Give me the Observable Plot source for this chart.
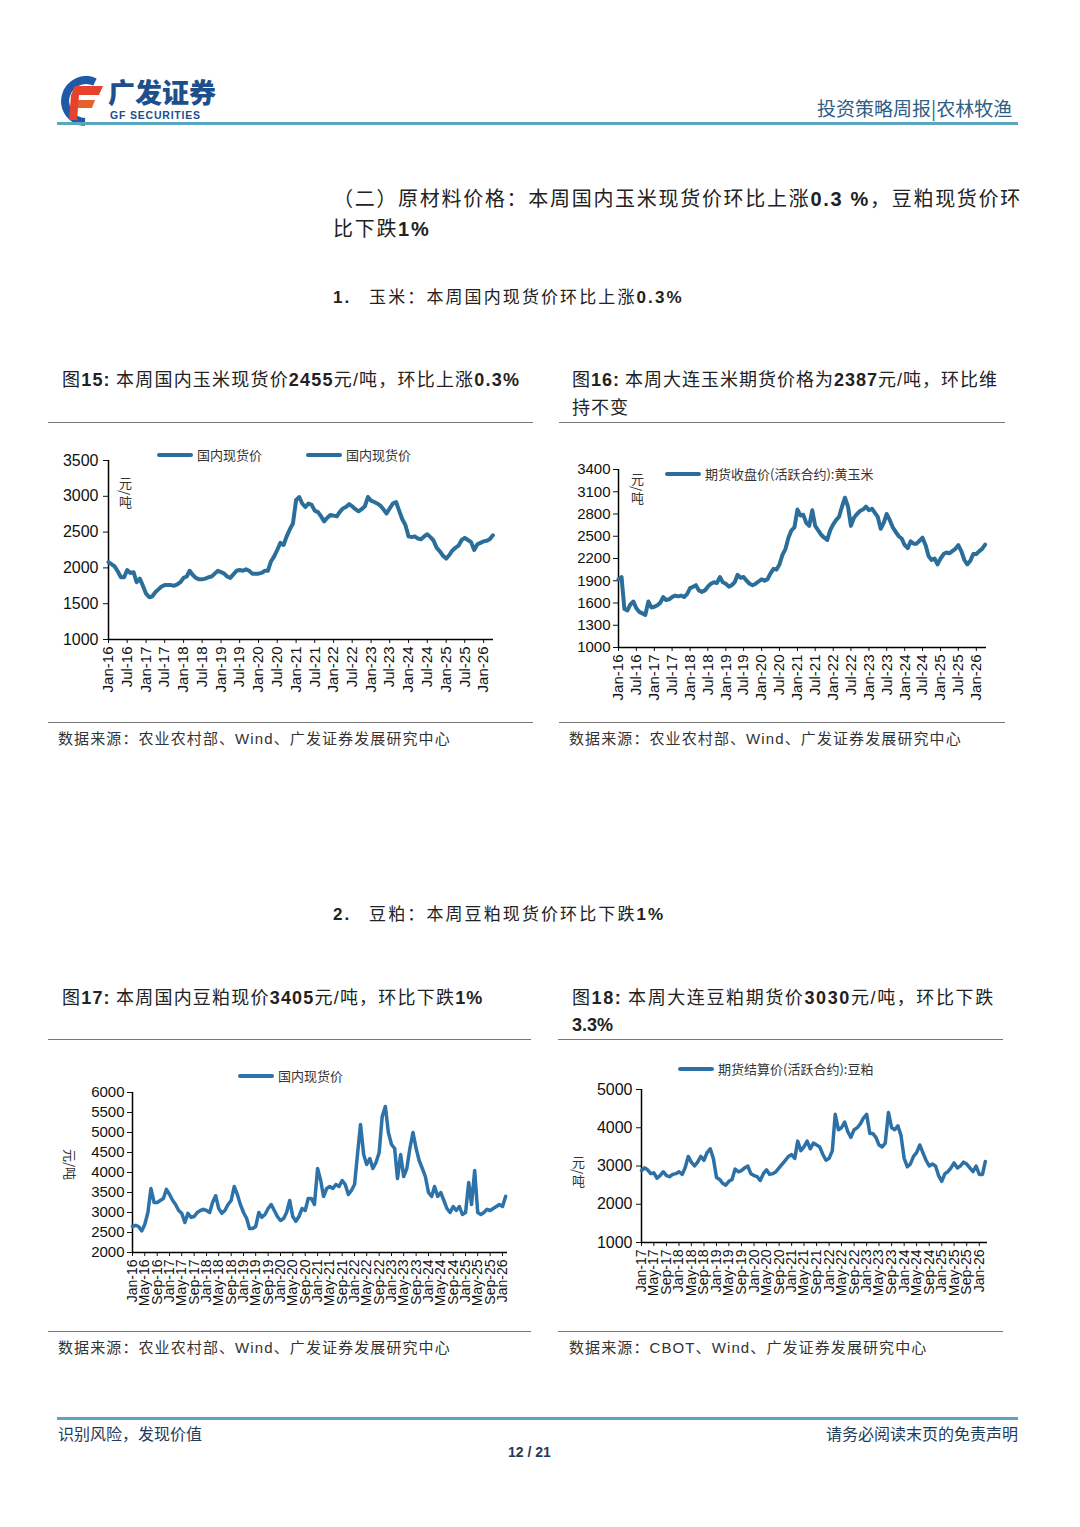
<!DOCTYPE html>
<html><head><meta charset="utf-8">
<script src="https://cdn.jsdelivr.net/npm/d3@7"></script>
<script src="https://cdn.jsdelivr.net/npm/@observablehq/plot@0.6"></script>
<style>
body{margin:0;background:#fff;}
#page{position:relative;width:1080px;height:1527px;overflow:hidden;font-family:"Noto Sans CJK SC","Noto Sans",sans-serif;color:#222;background:#fff;}
.abs{position:absolute;white-space:nowrap;line-height:1;}
.n{font-family:"Liberation Sans",Arial,sans-serif;font-weight:bold;}
.a{font-family:"Liberation Sans",Arial,sans-serif;}
.rule{position:absolute;height:0;border-top:1.5px solid #777;}
.leg{position:absolute;white-space:nowrap;line-height:1;font-size:13px;color:#333;display:flex;align-items:center;}
.leg i{display:inline-block;width:36px;height:4px;border-radius:2px;margin-right:4px;}
.unit{position:absolute;writing-mode:vertical-rl;font-size:13px;line-height:1;color:#333;}
.src{font-size:15px;color:#333;letter-spacing:1.1px;}
.ttl{font-size:18px;color:#222;}
</style></head>
<body><div id="page">
<!-- header -->
<svg class="abs" style="left:55px;top:76px" width="50" height="50" viewBox="0 0 50 50">
  <path d="M40 6 A21 21 0 1 0 30 46" fill="none" stroke="#1f5aa6" stroke-width="8"/>
  <polygon points="20,10 48,10 44,19 16,19" fill="#e8412c"/>
  <polygon points="18,24 40,24 37,32 15,32" fill="#e8602c"/>
  <polygon points="16,19 24,19 22,44 14,44" fill="#e8412c"/>
</svg>
<div class="abs" style="left:108px;top:78px;height:28px;font-size:27px;line-height:28px;font-weight:900;color:#1d4f8c;letter-spacing:0px">广发证券</div>
<div class="abs a" style="left:110px;top:110px;font-size:10.5px;font-weight:bold;color:#1d4f8c;letter-spacing:0.8px">GF SECURITIES</div>
<div class="abs" style="left:817px;top:98px;font-size:19px;color:#2d5e84">投资策略周报|农林牧渔</div>
<div class="abs" style="left:57px;top:122px;width:961px;height:3px;background:#5aa6c0"></div>

<div class="abs" style="left:333px;top:188px;font-size:20px;letter-spacing:1.7px">（二）原材料价格：本周国内玉米现货价环比上涨<span class="n">0.3 %</span>，豆粕现货价环</div>
<div class="abs" style="left:333px;top:218px;font-size:20px;letter-spacing:1.7px">比下跌<span class="n">1%</span></div>
<div class="abs" style="left:333px;top:287px;font-size:17px;letter-spacing:2.1px"><span class="n">1.</span>&nbsp;&nbsp;&nbsp;玉米：本周国内现货价环比上涨<span class="n">0.3%</span></div>

<div class="abs ttl" style="left:62px;top:369px;letter-spacing:1.2px">图<span class="n">15:</span> 本周国内玉米现货价<span class="n">2455</span>元<span class="a">/</span>吨，环比上涨<span class="n">0.3%</span></div>
<div class="abs ttl" style="left:572px;top:369px;letter-spacing:1px">图<span class="n">16:</span> 本周大连玉米期货价格为<span class="n">2387</span>元<span class="a">/</span>吨，环比维</div>
<div class="abs ttl" style="left:572px;top:397px;letter-spacing:1px">持不变</div>
<div class="rule" style="left:48px;top:422px;width:485px"></div>
<div class="rule" style="left:559px;top:422px;width:446px"></div>
<div class="rule" style="left:48px;top:722px;width:485px"></div>
<div class="rule" style="left:559px;top:722px;width:446px"></div>
<div class="abs src" style="left:58px;top:730px">数据来源：农业农村部、<span class="a">Wind</span>、广发证券发展研究中心</div>
<div class="abs src" style="left:569px;top:730px">数据来源：农业农村部、<span class="a">Wind</span>、广发证券发展研究中心</div>

<div class="abs" style="left:333px;top:904px;font-size:17px;letter-spacing:2.1px"><span class="n">2.</span>&nbsp;&nbsp;&nbsp;豆粕：本周豆粕现货价环比下跌<span class="n">1%</span></div>
<div class="abs ttl" style="left:62px;top:987px;letter-spacing:1.2px">图<span class="n">17:</span> 本周国内豆粕现价<span class="n">3405</span>元<span class="a">/</span>吨，环比下跌<span class="n">1%</span></div>
<div class="abs ttl" style="left:572px;top:987px;letter-spacing:1.6px">图<span class="n">18:</span> 本周大连豆粕期货价<span class="n">3030</span>元<span class="a">/</span>吨，环比下跌</div>
<div class="abs ttl n" style="left:572px;top:1016px">3.3%</div>
<div class="rule" style="left:48px;top:1039px;width:483px"></div>
<div class="rule" style="left:558px;top:1039px;width:445px"></div>
<div class="rule" style="left:48px;top:1331px;width:483px"></div>
<div class="rule" style="left:558px;top:1331px;width:445px"></div>
<div class="abs src" style="left:58px;top:1339px">数据来源：农业农村部、<span class="a">Wind</span>、广发证券发展研究中心</div>
<div class="abs src" style="left:569px;top:1339px">数据来源：<span class="a">CBOT</span>、<span class="a">Wind</span>、广发证券发展研究中心</div>

<!-- legends and units -->
<div class="leg" style="left:157px;top:448px"><i style="background:#2b6e9a"></i>国内现货价</div>
<div class="leg" style="left:306px;top:448px"><i style="background:#2b6e9a"></i>国内现货价</div>
<div class="unit" style="left:119px;top:477px">元/吨</div>
<div class="leg" style="left:665px;top:467px"><i style="background:#2b6e9a"></i>期货收盘价(活跃合约):黄玉米</div>
<div class="unit" style="left:631px;top:473px">元/吨</div>
<div class="leg" style="left:238px;top:1069px"><i style="background:#2d72a8"></i>国内现货价</div>
<div class="abs" style="left:55px;top:1158px;font-size:13px;color:#333;transform:rotate(90deg)">元/吨</div>
<div class="leg" style="left:678px;top:1062px"><i style="background:#2d70a6"></i>期货结算价(活跃合约):豆粕</div>
<div class="unit" style="left:572px;top:1156px">元/吨</div>

<!-- footer -->
<div class="abs" style="left:57px;top:1417px;width:961px;height:3px;background:#5aa6c0"></div>
<div class="abs" style="left:58px;top:1425px;font-size:16px;color:#1f3b5c">识别风险，发现价值</div>
<div class="abs" style="left:826px;top:1425px;font-size:16px;color:#1f3b5c">请务必阅读末页的免责声明</div>
<div class="abs n" style="left:508px;top:1445px;font-size:14px;color:#1f3b5c">12 / 21</div>
</div>
<script>
// ===== Data (monthly readings) =====
// Fig15: domestic corn spot price, monthly from Jan-16
const cornSpotStart = "2016-01";
const cornSpotValues = [
 2080,2050,2020,1950,1870,1870,1970,1930,1940,1800,1850,1750,
 1640,1590,1600,1660,1700,1740,1760,1760,1760,1750,1770,1800,
 1860,1880,1960,1900,1860,1840,1840,1850,1870,1880,1920,1960,
 1940,1920,1880,1860,1910,1960,1970,1960,1980,1960,1920,1920,
 1920,1930,1960,1960,2090,2160,2250,2350,2320,2440,2540,2620,
 2950,2990,2900,2850,2900,2880,2800,2780,2720,2650,2700,2740,
 2730,2720,2780,2830,2850,2890,2860,2820,2790,2820,2860,2990,
 2940,2920,2900,2870,2820,2760,2830,2900,2920,2800,2680,2600,
 2440,2430,2440,2410,2400,2440,2470,2430,2380,2280,2230,2170,
 2130,2180,2240,2280,2310,2390,2420,2390,2360,2250,2330,2350,
 2370,2380,2400,2455
];
const cornSpotYTicks = [1000,1500,2000,2500,3000,3500];
const cornSpotXTicks = ["Jan-16","Jul-16","Jan-17","Jul-17","Jan-18","Jul-18","Jan-19","Jul-19","Jan-20","Jul-20","Jan-21","Jul-21","Jan-22","Jul-22","Jan-23","Jul-23","Jan-24","Jul-24","Jan-25","Jul-25","Jan-26"];

// Fig16: Dalian corn futures close, monthly from Jan-16
const cornFutStart = "2016-01";
const cornFutValues = [
 1920,1950,1520,1500,1580,1620,1530,1480,1460,1440,1620,1540,
 1550,1570,1600,1680,1640,1650,1680,1700,1690,1700,1680,1720,
 1800,1820,1840,1770,1750,1770,1820,1860,1880,1870,1950,1880,
 1860,1820,1840,1880,1980,1940,1950,1900,1860,1840,1860,1890,
 1920,1900,1920,2000,2060,2050,2120,2250,2330,2480,2580,2620,
 2860,2780,2790,2680,2640,2850,2640,2580,2520,2480,2450,2580,
 2660,2720,2760,2900,3020,2900,2640,2750,2800,2840,2860,2900,
 2850,2870,2820,2760,2600,2680,2800,2720,2620,2560,2500,2470,
 2380,2340,2430,2400,2400,2440,2480,2380,2230,2180,2200,2120,
 2200,2260,2280,2270,2300,2330,2380,2300,2180,2120,2170,2260,
 2260,2300,2330,2387
];
const cornFutYTicks = [1000,1300,1600,1900,2200,2500,2800,3100,3400];
const cornFutXTicks = cornSpotXTicks;

// Fig17: domestic soybean meal spot, monthly from Jan-16
const mealSpotStart = "2016-01";
const mealSpotValues = [
 2650,2680,2650,2540,2700,3000,3600,3250,3250,3300,3350,3580,
 3450,3300,3200,3050,2980,2750,2980,2880,2900,3000,3050,3080,
 3050,3000,3250,3420,3100,2980,3050,3200,3300,3650,3450,3200,
 3000,2850,2600,2600,2650,3000,2880,2950,3100,3200,3050,2900,
 2800,2850,3000,3300,2900,2780,2900,3100,3050,3350,3350,3200,
 4100,3800,3400,3600,3650,3600,3700,3650,3800,3700,3450,3550,
 3700,4500,5200,4450,4200,4350,4100,4250,4500,5400,5650,5000,
 4700,4600,3850,4450,3900,4100,4600,5000,4600,4300,4100,3900,
 3500,3400,3650,3400,3500,3300,3100,3000,3150,3050,3150,2950,
 3000,3750,3200,4050,3000,2950,3000,3080,3050,3100,3150,3200,
 3150,3405
];
const mealSpotYTicks = [2000,2500,3000,3500,4000,4500,5000,5500,6000];
const mealSpotXTicks = ["Jan-16","May-16","Sep-16","Jan-17","May-17","Sep-17","Jan-18","May-18","Sep-18","Jan-19","May-19","Sep-19","Jan-20","May-20","Sep-20","Jan-21","May-21","Sep-21","Jan-22","May-22","Sep-22","Jan-23","May-23","Sep-23","Jan-24","May-24","Sep-24","Jan-25","May-25","Sep-25","Jan-26"];

// Fig18: Dalian soybean meal futures settlement, monthly from Jan-17
const mealFutStart = "2017-01";
const mealFutValues = [
 2880,2950,2900,2800,2820,2680,2750,2850,2750,2720,2780,2800,
 2850,2780,2950,3250,3100,3000,3100,3250,3150,3350,3450,3200,
 2700,2650,2550,2500,2600,2650,2920,2850,2880,2950,3000,2800,
 2750,2720,2620,2800,2900,2780,2800,2850,2950,3050,3150,3250,
 3300,3200,3650,3400,3500,3650,3450,3600,3550,3500,3300,3150,
 3200,3400,4350,3950,4000,4150,3900,3750,3950,4000,4100,4250,
 4350,3850,3850,3750,3550,3500,3600,4400,4000,3950,4050,3800,
 3200,2980,3050,3250,3350,3550,3350,3150,3000,3050,3000,2750,
 2600,2800,2850,2950,3080,2950,3000,3100,3050,2950,2850,3000,
 2780,2780,3120
];
const mealFutYTicks = [1000,2000,3000,4000,5000];
const mealFutXTicks = ["Jan-17","May-17","Sep-17","Jan-18","May-18","Sep-18","Jan-19","May-19","Sep-19","Jan-20","May-20","Sep-20","Jan-21","May-21","Sep-21","Jan-22","May-22","Sep-22","Jan-23","May-23","Sep-23","Jan-24","May-24","Sep-24","Jan-25","May-25","Sep-25","Jan-26"];

// ===== Drawing =====
const parseTick = d3.utcParse("%b-%y");
const parseStart = d3.utcParse("%Y-%m");
const fmtTick = d3.utcFormat("%b-%y");

function drawChart(c) {
  const start = parseStart(c.start);
  const data = c.values.map((v, i) => ({date: d3.utcMonth.offset(start, i), value: v}));
  const xDomain = [parseTick(c.ticks[0]), new Date(c.end)];
  const svg = Plot.plot({
    width: c.w, height: c.h,
    marginLeft: c.ml, marginRight: c.mr, marginTop: c.mt, marginBottom: c.mb,
    style: {fontFamily: '"Liberation Sans", Arial, sans-serif', color: "#111", background: "transparent", overflow: "visible"},
    x: {type: "utc", domain: xDomain},
    y: {domain: [c.yTicks[0], c.yTicks[c.yTicks.length - 1]]},
    marks: [
      Plot.axisY({ticks: c.yTicks, tickFormat: d => String(d), tickSize: 5, tickPadding: c.yPad, fontSize: c.yFont, label: null}),
      Plot.axisX({ticks: c.ticks.map(parseTick), tickFormat: fmtTick, tickRotate: -90, tickSize: 4, tickPadding: 3, fontSize: c.xFont, label: null}),
      Plot.ruleX([xDomain[0]], {stroke: "#000", strokeWidth: 1.5}),
      Plot.ruleY([c.yTicks[0]], {stroke: "#000", strokeWidth: 1.5}),
      Plot.line(data, {x: "date", y: "value", stroke: c.color, strokeWidth: c.sw, strokeLinejoin: "round", strokeLinecap: "round"})
    ]
  });
  svg.style.position = "absolute";
  svg.style.left = c.left + "px";
  svg.style.top = c.top + "px";
  document.getElementById("page").appendChild(svg);
}

drawChart({start: cornSpotStart, values: cornSpotValues, ticks: cornSpotXTicks, yTicks: cornSpotYTicks,
  end: "2026-04-07", left: 40, top: 445, w: 480, h: 260, ml: 68, mr: 27, mt: 15, mb: 66,
  yFont: 16, xFont: 15, yPad: 5, color: "#2b6e9a", sw: 4});
drawChart({start: cornFutStart, values: cornFutValues, ticks: cornFutXTicks, yTicks: cornFutYTicks,
  end: "2026-04-15", left: 555, top: 455, w: 445, h: 255, ml: 63, mr: 14, mt: 14, mb: 63,
  yFont: 15, xFont: 15, yPad: 3, color: "#2b6e9a", sw: 4});
drawChart({start: mealSpotStart, values: mealSpotValues, ticks: mealSpotXTicks, yTicks: mealSpotYTicks,
  end: "2026-02-19", left: 50, top: 1080, w: 470, h: 245, ml: 82, mr: 13, mt: 12, mb: 73,
  yFont: 15, xFont: 14, yPad: 3, color: "#2d72a8", sw: 3.5});
drawChart({start: mealFutStart, values: mealFutValues, ticks: mealFutXTicks, yTicks: mealFutYTicks,
  end: "2026-03-22", left: 560, top: 1075, w: 440, h: 245, ml: 81, mr: 13, mt: 14, mb: 78,
  yFont: 16, xFont: 14, yPad: 4, color: "#2d70a6", sw: 3.5});
</script>
</body></html>
